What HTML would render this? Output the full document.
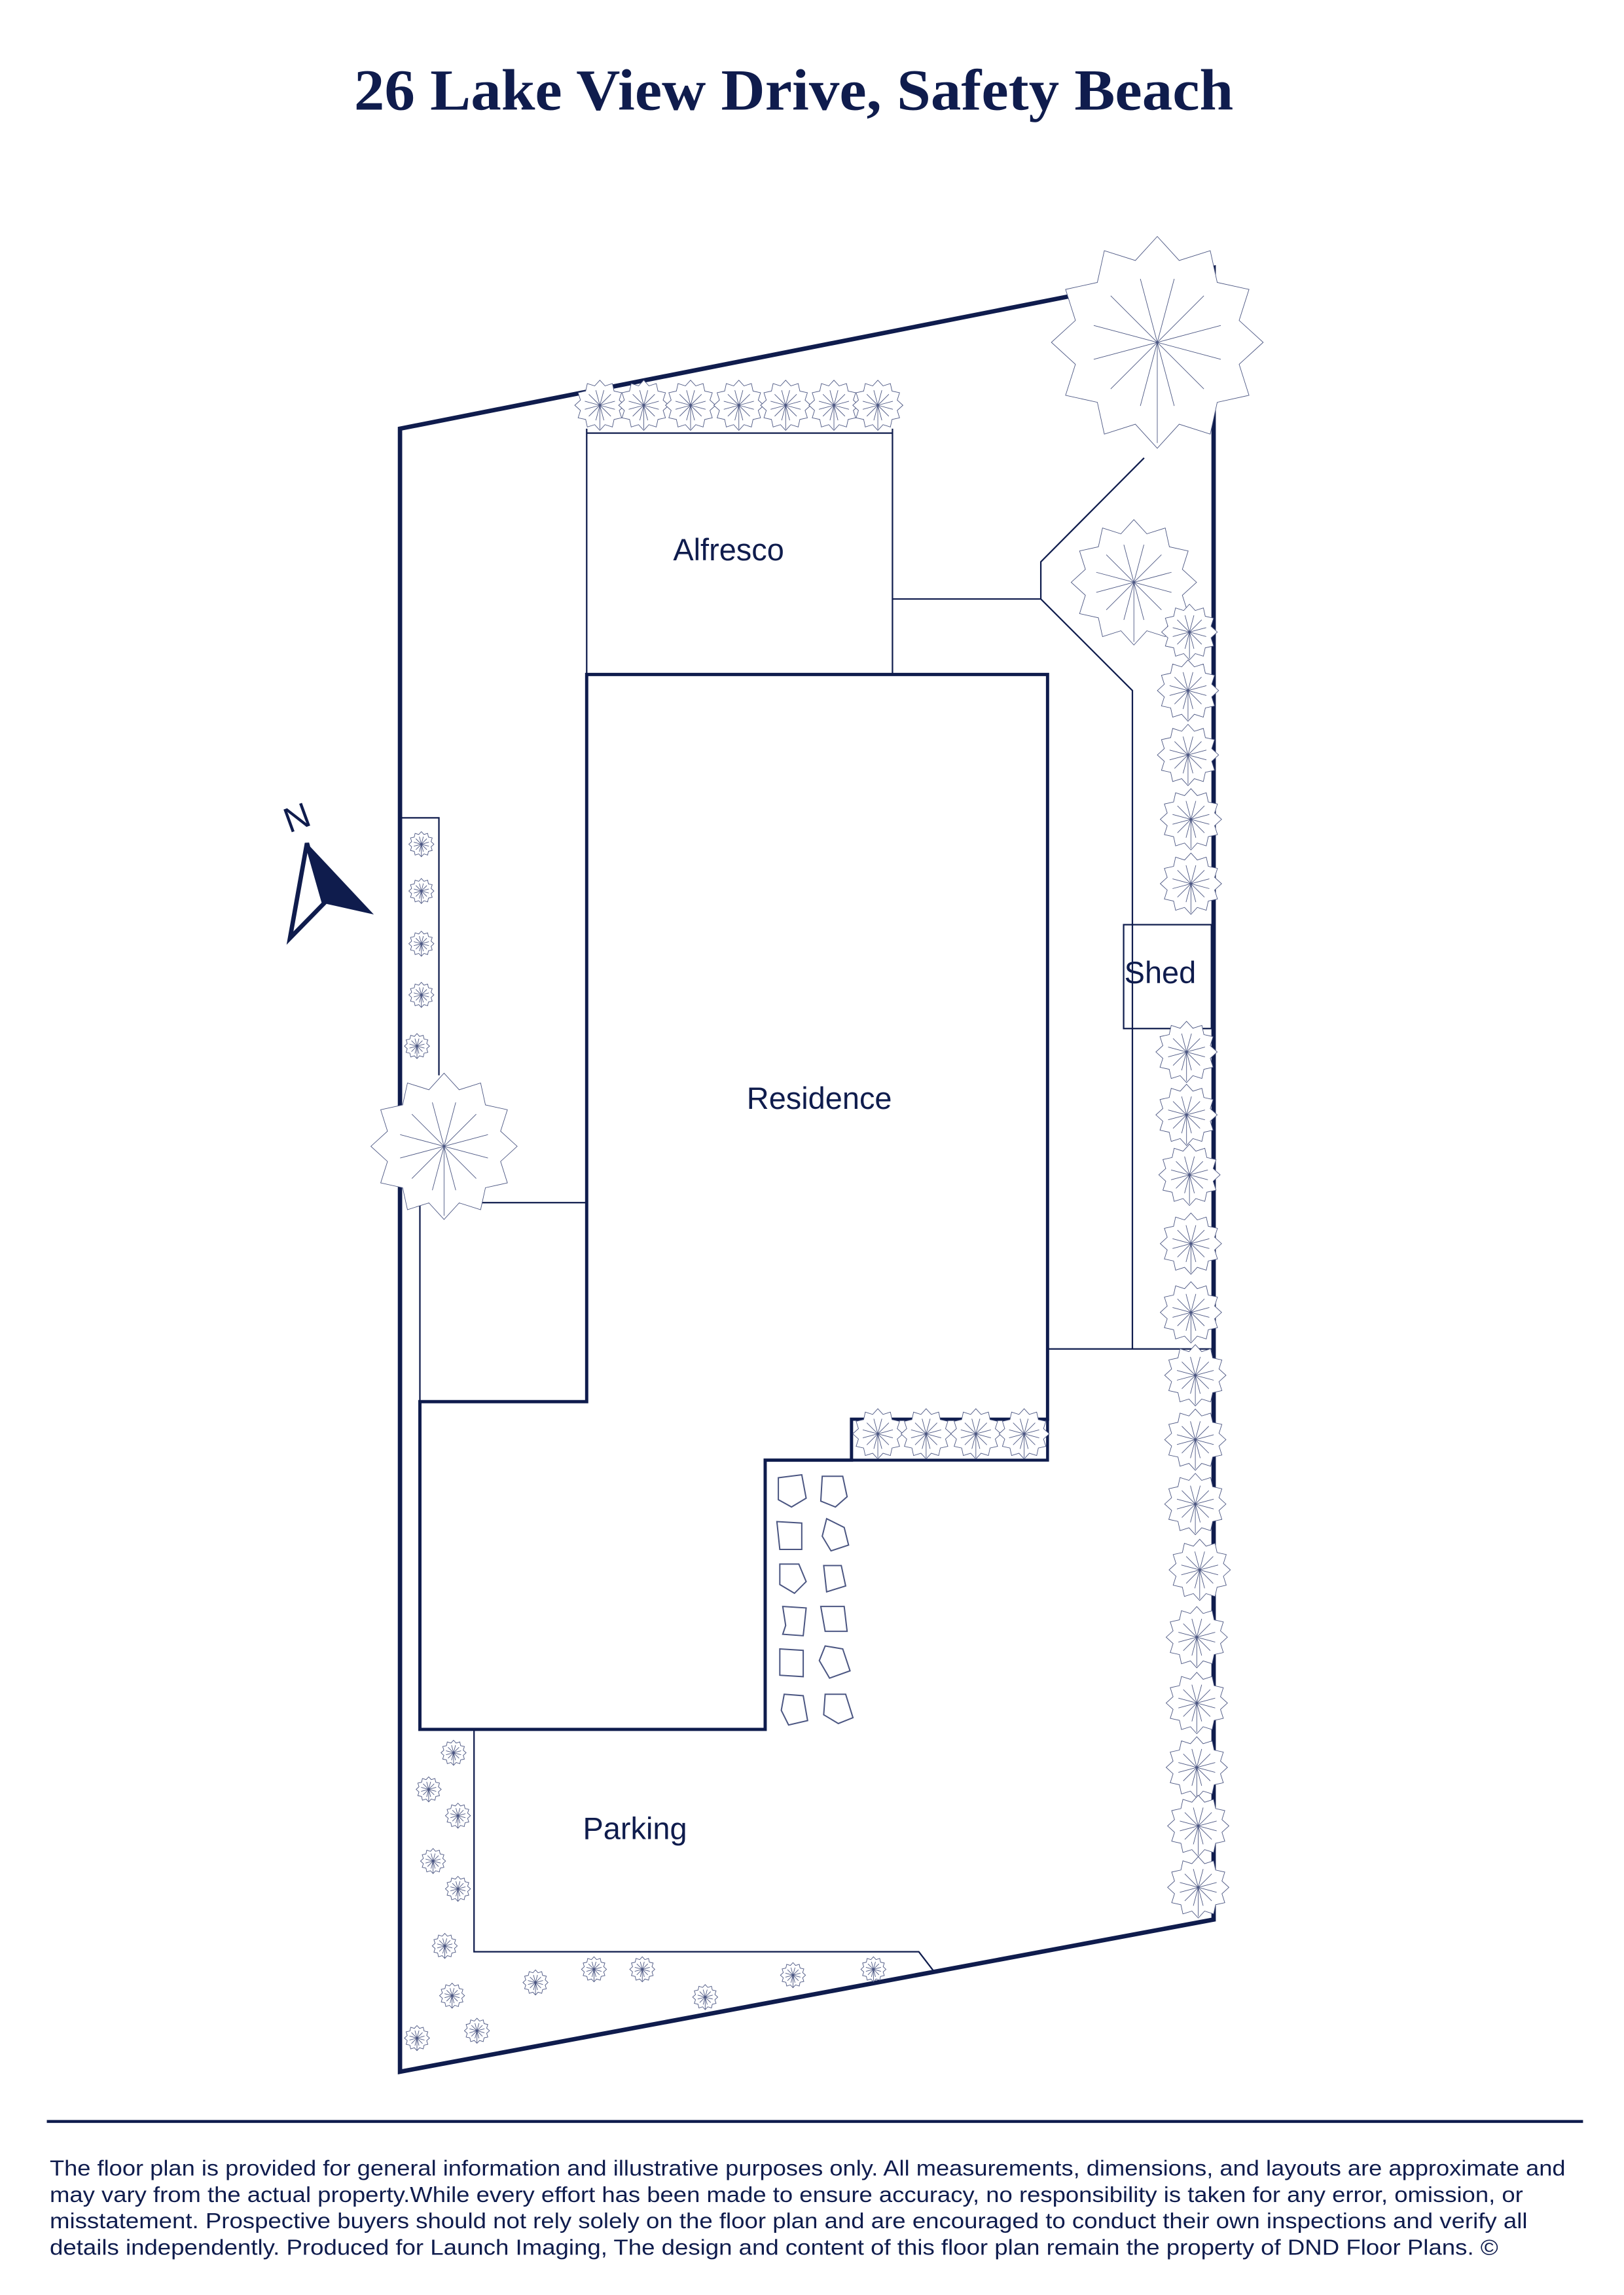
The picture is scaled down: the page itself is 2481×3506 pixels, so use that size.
<!DOCTYPE html>
<html><head><meta charset="utf-8"><style>
html,body{margin:0;padding:0;background:#fff}
svg{display:block}
</style></head><body>
<svg width="2481" height="3506" viewBox="0 0 1110 1568.6" preserveAspectRatio="none" xmlns="http://www.w3.org/2000/svg">
<defs>
<symbol id="t" viewBox="-1.05 -1.05 2.1 2.1">
<path vector-effect="non-scaling-stroke" fill="#fff" stroke="#4b5682" stroke-width="0.9" d="M1,0 L.773,.207 L.866,.5 L.566,.566 L.5,.866 L.207,.773 L0,1 L-.207,.773 L-.5,.866 L-.566,.566 L-.866,.5 L-.773,.207 L-1,0 L-.773,-.207 L-.866,-.5 L-.566,-.566 L-.5,-.866 L-.207,-.773 L0,-1 L.207,-.773 L.5,-.866 L.566,-.566 L.866,-.5 L.773,-.207 Z"/>
<path vector-effect="non-scaling-stroke" fill="none" stroke="#4b5682" stroke-width="0.9" d="M0,0 L.6,.16 M0,0 L.44,.44 M0,0 L.16,.6 M0,0 L-.16,.6 M0,0 L-.44,.44 M0,0 L-.6,.16 M0,0 L-.6,-.16 M0,0 L-.44,-.44 M0,0 L-.16,-.6 M0,0 L.16,-.6 M0,0 L.44,-.44 M0,0 L.6,-.16 M0,0 L0,.95"/>
</symbol>
</defs>
<g font-family="Liberation Serif, serif" fill="#0f1c4d">
<text x="242" y="75" font-size="40" font-weight="bold" textLength="601" lengthAdjust="spacingAndGlyphs">26 Lake View Drive, Safety Beach</text>
</g>
<g fill="none" stroke="#0f1c4d">
<path d="M273.4,293 L829.5,183 L829.5,1312 L273.4,1416 Z" stroke-width="3"/>
<g stroke-width="1">
<path d="M401,293 L401,461 M610,293 L610,461 M401,296 L610,296"/>
<path d="M610,409.4 L711.4,409.4 L774,472 L774,922 M711.4,409.4 L711.4,384 L782,313"/>
<path d="M716,922 L829.5,922"/>
<rect x="768" y="632" width="60" height="71"/>
<path d="M273.4,559 L300,559 L300,735"/>
<path d="M287,822 L401,822 M287,815 L287,958"/>
<path d="M324,1182 L324,1334 L628,1334 L638,1347"/>
</g>
<path d="M401,461 L716,461 L716,970 L582,970 L582,998 L523,998 L523,1182 L287,1182 L287,958 L401,958 Z" stroke-width="2.2"/>
<path d="M582,970 L582,998 L716,998 L716,970" stroke-width="2"/>
<g stroke="#4b5682" stroke-width="0.9">
<path d="M532,1010 l16,-2 l3,16 l-10,6 l-9,-5 z"/><path d="M562,1009 l14,0 l3,14 l-8,7 l-10,-4 z"/>
<path d="M531,1040 l17,1 l0,18 l-15,0 z"/><path d="M565,1038 l12,6 l3,12 l-12,4 l-6,-10 z"/>
<path d="M533,1069 l13,0 l5,12 l-8,8 l-10,-6 z"/><path d="M563,1070 l12,0 l3,14 l-13,4 z"/>
<path d="M535,1098 l16,1 l-2,19 l-14,-1 l2,-6 z"/><path d="M561,1098 l16,0 l2,17 l-15,0 z"/>
<path d="M533,1127 l16,1 l0,18 l-16,-1 z"/><path d="M564,1125 l12,2 l5,15 l-14,5 l-7,-12 z"/>
<path d="M536,1158 l13,1 l3,17 l-13,3 l-5,-10 z"/><path d="M564,1158 l14,0 l5,16 l-10,4 l-10,-6 z"/>
</g>
</g>
<g>
<use href="#t" x="715" y="158" width="152" height="152"/>
<use href="#t" x="730" y="353" width="90" height="90"/>
<use href="#t" x="251" y="731" width="105" height="105"/>
<use href="#t" x="392" y="259" width="36" height="36"/><use href="#t" x="422" y="259" width="36" height="36"/><use href="#t" x="454" y="259" width="36" height="36"/><use href="#t" x="487" y="259" width="36" height="36"/><use href="#t" x="519" y="259" width="36" height="36"/><use href="#t" x="552" y="259" width="36" height="36"/><use href="#t" x="582" y="259" width="36" height="36"/>
<use href="#t" x="582" y="962" width="36" height="36"/><use href="#t" x="615" y="962" width="36" height="36"/><use href="#t" x="649" y="962" width="36" height="36"/><use href="#t" x="682" y="962" width="36" height="36"/>
<use href="#t" x="793" y="412" width="40" height="40"/><use href="#t" x="790" y="450" width="44" height="44"/><use href="#t" x="790" y="494" width="44" height="44"/><use href="#t" x="792" y="538" width="44" height="44"/><use href="#t" x="792" y="582" width="44" height="44"/>
<use href="#t" x="789" y="697" width="44" height="44"/><use href="#t" x="789" y="740" width="44" height="44"/><use href="#t" x="791" y="781" width="44" height="44"/><use href="#t" x="792" y="828" width="44" height="44"/><use href="#t" x="792" y="875" width="44" height="44"/>
<use href="#t" x="795" y="918" width="44" height="44"/><use href="#t" x="795" y="962" width="44" height="44"/><use href="#t" x="795" y="1006" width="44" height="44"/><use href="#t" x="798" y="1051" width="44" height="44"/><use href="#t" x="796" y="1097" width="44" height="44"/><use href="#t" x="796" y="1142" width="44" height="44"/><use href="#t" x="796" y="1186" width="44" height="44"/><use href="#t" x="797" y="1226" width="44" height="44"/><use href="#t" x="797" y="1268" width="44" height="44"/>
<use href="#t" x="279" y="568" width="18" height="18"/><use href="#t" x="279" y="600" width="18" height="18"/><use href="#t" x="279" y="636" width="18" height="18"/><use href="#t" x="279" y="671" width="18" height="18"/><use href="#t" x="276" y="706" width="18" height="18"/>
<use href="#t" x="301" y="1189" width="18" height="18"/><use href="#t" x="284" y="1214" width="18" height="18"/><use href="#t" x="304" y="1232" width="18" height="18"/><use href="#t" x="287" y="1263" width="18" height="18"/><use href="#t" x="304" y="1282" width="18" height="18"/><use href="#t" x="295" y="1321" width="18" height="18"/><use href="#t" x="300" y="1355" width="18" height="18"/><use href="#t" x="317" y="1379" width="18" height="18"/><use href="#t" x="276" y="1384" width="18" height="18"/>
<use href="#t" x="357" y="1346" width="18" height="18"/><use href="#t" x="397" y="1337" width="18" height="18"/><use href="#t" x="430" y="1337" width="18" height="18"/><use href="#t" x="473" y="1356" width="18" height="18"/><use href="#t" x="533" y="1341" width="18" height="18"/><use href="#t" x="588" y="1337" width="18" height="18"/>
</g>
<g font-family="Liberation Sans, sans-serif" fill="#0f1c4d" font-size="21">
<text x="498" y="383" text-anchor="middle">Alfresco</text>
<text x="560" y="758" text-anchor="middle">Residence</text>
<text x="793" y="672" text-anchor="middle">Shed</text>
<text x="434" y="1257" text-anchor="middle">Parking</text>
</g>
<text x="203" y="567" font-family="Liberation Sans, sans-serif" font-size="24" fill="#0f1c4d" text-anchor="middle" transform="rotate(-20 203 559)">N</text>
<path d="M209.8,576.3 L255.5,625 L221.5,617.4 Z" fill="#0f1c4d"/>
<path d="M209.8,576.3 L221.5,617.4 L198.2,641.2 Z" fill="none" stroke="#0f1c4d" stroke-width="3" stroke-linejoin="miter"/>
<line x1="32" y1="1450" x2="1082" y2="1450" stroke="#0f1c4d" stroke-width="2"/>
<g font-family="Liberation Sans, sans-serif" fill="#0f1c4d" font-size="15">
<text x="34" y="1487" textLength="1036" lengthAdjust="spacingAndGlyphs">The floor plan is provided for general information and illustrative purposes only. All measurements, dimensions, and layouts are approximate and</text>
<text x="34" y="1505" textLength="1007" lengthAdjust="spacingAndGlyphs">may vary from the actual property.While every effort has been made to ensure accuracy, no responsibility is taken for any error, omission, or</text>
<text x="34" y="1523" textLength="1010" lengthAdjust="spacingAndGlyphs">misstatement. Prospective buyers should not rely solely on the floor plan and are encouraged to conduct their own inspections and verify all</text>
<text x="34" y="1541" textLength="990" lengthAdjust="spacingAndGlyphs">details independently.  Produced for Launch Imaging, The design and content of this floor plan remain the property of DND Floor Plans. ©</text>
</g>
</svg>
</body></html>
